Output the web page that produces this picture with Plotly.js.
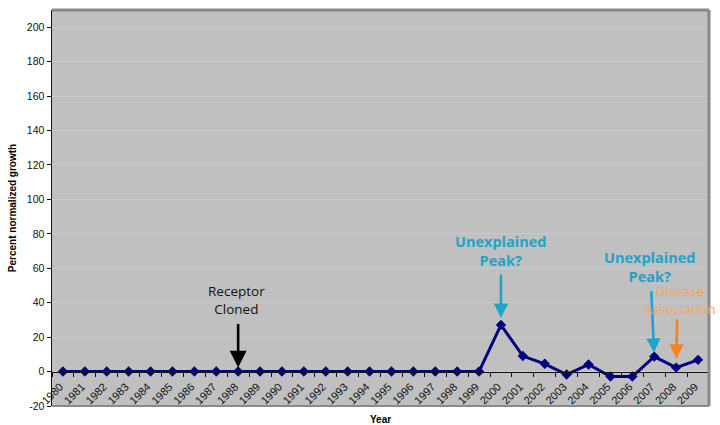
<!DOCTYPE html>
<html>
<head>
<meta charset="utf-8">
<script src="https://cdn.plot.ly/plotly-3.0.1.min.js"></script>
<style>html,body{margin:0;padding:0;background:#fff;}#chart{width:720px;height:425px;}#err{font:10px monospace;color:red;position:absolute;top:0;left:60px;}</style>
</head>
<body>
<div id="chart"></div>
<div id="err"></div>
<script>
window.onerror = function(m){ document.getElementById('err').textContent += ' ' + m; };
const years = ['1980','1981','1982','1983','1984','1985','1986','1987','1988','1989',
  '1990','1991','1992','1993','1994','1995','1996','1997','1998','1999',
  '2000','2001','2002','2003','2004','2005','2006','2007','2008','2009'];
const growth = [0,0,0,0,0,0,0,0,0,0,
  0,0,0,0,0,0,0,0,0,0,
  27.1,9.0,4.5,-1.7,4.1,-2.9,-2.9,8.7,2.3,6.8];
const yTicks = [-20,0,20,40,60,80,100,120,140,160,180,200];
const yTitle = 'Percent normalized growth';
const xTitle = 'Year';
const notes = [
  {year:'1988', text:'Receptor<br>Cloned', color:'#111111', arrow:'#000000'},
  {year:'2000', text:'<b>Unexplained<br>Peak?</b>', color:'#1ea3c9', arrow:'#1ea3c9'},
  {year:'2007', text:'<b>Unexplained<br>Peak?</b>', color:'#1ea3c9', arrow:'#1ea3c9'},
  {year:'2008', text:'Disease<br>Association', color:'#f8a559', arrow:'#f5831f'}
];

function valOf(y){ return growth[years.indexOf(y)]; }

const trace = {
  x: years, y: growth, type:'scatter', mode:'lines+markers',
  line:{color:'#000080', width:3},
  marker:{symbol:'diamond', size:8, color:'#000080'},
  hoverinfo:'skip'
};
// invisible helper trace on an overlaying x axis used for annotation placement
const helper = {
  x: years, y: growth, xaxis:'x2', yaxis:'y', type:'scatter', mode:'markers',
  marker:{opacity:0}, hoverinfo:'skip', showlegend:false
};

const font = "Open Sans, Liberation Sans, sans-serif";
const arrowCfg = [
  {ay:-49, ax:0, standoff:4, tx:-2, ty:-72, size:13.5, asize:1.3},
  {ay:-52, ax:0, standoff:7, tx:0, ty:-74, size:14.5, asize:1.1},
  {ay:-67, ax:-3, standoff:4, tx:-4, ty:-90, size:14.5, asize:1.1},
  {ay:-50, ax:1, standoff:9, tx:4, ty:-68, size:13.5, asize:1.1}
];
const annotations = [];
notes.forEach((n,i)=>{
  const c = arrowCfg[i];
  const idx = years.indexOf(n.year);
  annotations.push({x:idx, y:valOf(n.year), xref:'x2', yref:'y', text:'', showarrow:true,
    ax:c.ax, ay:c.ay, arrowcolor:n.arrow, arrowwidth:2.6, arrowhead:2, arrowsize:c.asize, standoff:c.standoff});
  annotations.push({x:idx, y:valOf(n.year), xref:'x2', yref:'y', text:n.text, showarrow:false,
    xshift:c.tx, yshift:-c.ty, xanchor:'center', yanchor:'middle',
    font:{family:font, size:c.size, color:n.color}, align:'center'});
});
annotations.push({text:'<b>'+xTitle+'</b>', xref:'paper', yref:'paper', x:0.5, y:0, yshift:-13,
  xanchor:'center', yanchor:'middle', showarrow:false,
  font:{family:'Liberation Sans, Arial, sans-serif', size:10, color:'#000'}});

const layout = {
  width:720, height:425,
  margin:{l:52, r:11, t:10, b:19},
  paper_bgcolor:'#ffffff',
  plot_bgcolor:'#c0c0c0',
  showlegend:false,
  xaxis:{
    type:'category', anchor:'free', position:20/230,
    showline:true, linecolor:'#111', linewidth:1.5,
    ticks:'outside', tickson:'boundaries', ticklen:4, tickcolor:'#111',
    tickangle:-45, showgrid:false, zeroline:false,
    ticklabelstandoff:3, ticklabelshift:-3,
    tickfont:{family:'Liberation Sans, Arial, sans-serif', size:11, color:'#111'},
    range:[-0.5, 29.5]
  },
  xaxis2:{
    type:'linear', overlaying:'x', anchor:'y', range:[-0.5, 29.5],
    visible:false, showgrid:false, zeroline:false
  },
  yaxis:{
    range:[-20,210], tickvals:yTicks, ticktext:yTicks.map(String),
    showline:true, linecolor:'#111', linewidth:1.5, mirror:false,
    ticks:'outside', ticklen:4, tickcolor:'#111',
    showgrid:true, gridcolor:'#cbcbcb', gridwidth:1, zeroline:false,
    tickfont:{family:'Liberation Sans, Arial, sans-serif', size:10.5, color:'#111'},
    title:{text:'<b>'+yTitle+'</b>', font:{family:'Liberation Sans, Arial, sans-serif', size:10, color:'#000'}, standoff:8}
  },
  shapes:[
    {type:'line', xref:'paper', yref:'paper', x0:0, x1:1, y0:1, y1:1, line:{color:'#888888', width:3}},
    {type:'line', xref:'paper', yref:'paper', x0:1, x1:1, y0:0, y1:1, line:{color:'#888888', width:3}},
    {type:'line', xref:'paper', yref:'paper', x0:0, x1:1, y0:0, y1:0, line:{color:'#8a8a8a', width:2}}
  ],
  annotations: annotations
};

Plotly.newPlot('chart', [trace, helper], layout, {displayModeBar:false, staticPlot:true})
  .catch(e => { document.getElementById('err').textContent += ' ' + e; });
</script>
</body>
</html>
